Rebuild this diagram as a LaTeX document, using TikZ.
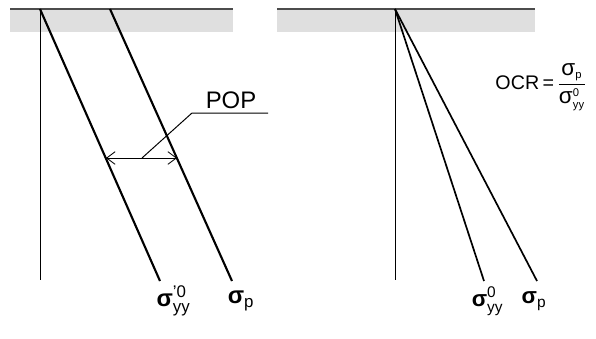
\documentclass[tikz,border=0pt]{standalone}
\usepackage{amsmath}
\usepackage{fontspec}
\setmainfont{Liberation Sans}
\usetikzlibrary{arrows.meta, positioning}

\begin{document}
\begin{tikzpicture}[x=0.025cm, y=-0.025cm]
    \useasboundingbox (0,0) rectangle (596,338);
    % ground bands
    \fill[gray!25] (10,9) rectangle (233,32);
    \draw[gray!60!black, line width=0.9pt] (10,9) -- (233,9);
    \fill[gray!25] (277,9) rectangle (535,32);
    \draw[gray!60!black, line width=0.9pt] (277,9) -- (535,9);
    % left panel
    \coordinate (LTop) at (40,9);
    \coordinate (LBot) at (40,280);
    \coordinate (PTop) at (110,9);
    \node[font=\fontsize{17}{20}\selectfont\bfseries, inner sep=1pt] (SigL) at (178,301) {σ\rlap{$^{\text{\normalfont\fontsize{12}{12}\selectfont ’0}}_{\text{\normalfont\fontsize{12}{12}\selectfont yy}}$}\phantom{yy}};
    \node[font=\fontsize{17}{20}\selectfont\bfseries, inner sep=1pt] (SigPL) at (241,301) {σ$_{\text{\normalfont\fontsize{12}{12}\selectfont p}}$};
    \draw (LTop) -- (LBot);
    \draw[line width=1.5pt] (LTop) -- (160,281) coordinate (LEnd);
    \draw[line width=1.5pt] (PTop) -- (232,281) coordinate (PEnd);
    % POP
    \coordinate (A1) at (106,158);
    \coordinate (A2) at (177,158);
    \draw[{Straight Barb[length=6pt, width=9pt]}-{Straight Barb[length=6pt, width=9pt]}, line width=0.6pt] (A1) -- (A2);
    \coordinate (PopA) at (142,158);
    \coordinate (PopK) at (192,113);
    \coordinate (PopE) at (268,113);
    \draw[line width=0.7pt] (PopA) -- (PopK) -- (PopE);
    \node[font=\fontsize{17}{20}\selectfont, inner sep=1pt] (Pop) at (231,100) {POP};
    % right panel
    \coordinate (RTop) at (395,9);
    \draw (RTop) -- (395,280) coordinate (RBot);
    \draw[line width=1.2pt] (RTop) -- (484,281) coordinate (REnd1);
    \draw[line width=1.2pt] (RTop) -- (537,281) coordinate (REnd2);
    \node[font=\fontsize{16}{20}\selectfont\bfseries, inner sep=1pt] (SigR) at (492,301) {σ\rlap{$^{\text{\normalfont\fontsize{11}{11}\selectfont 0}}_{\text{\normalfont\fontsize{11}{11}\selectfont yy}}$}\phantom{yy}};
    \node[font=\fontsize{16}{20}\selectfont\bfseries, inner sep=1pt] (SigPR) at (534,301) {σ$_{\text{\normalfont\fontsize{11}{11}\selectfont p}}$};
    % OCR
    \node[font=\fontsize{14}{16}\selectfont, inner sep=1pt] (Ocr) at (541,87) {OCR\,=\,$\dfrac{\text{\fontsize{16}{16}\selectfont σ}_{\text{\fontsize{8}{8}\selectfont p}}}{\text{\fontsize{16}{16}\selectfont σ}^{\text{\fontsize{8}{8}\selectfont 0}}_{\rule{0pt}{5pt}\text{\fontsize{8}{8}\selectfont yy}}}$};
\end{tikzpicture}
\end{document}
